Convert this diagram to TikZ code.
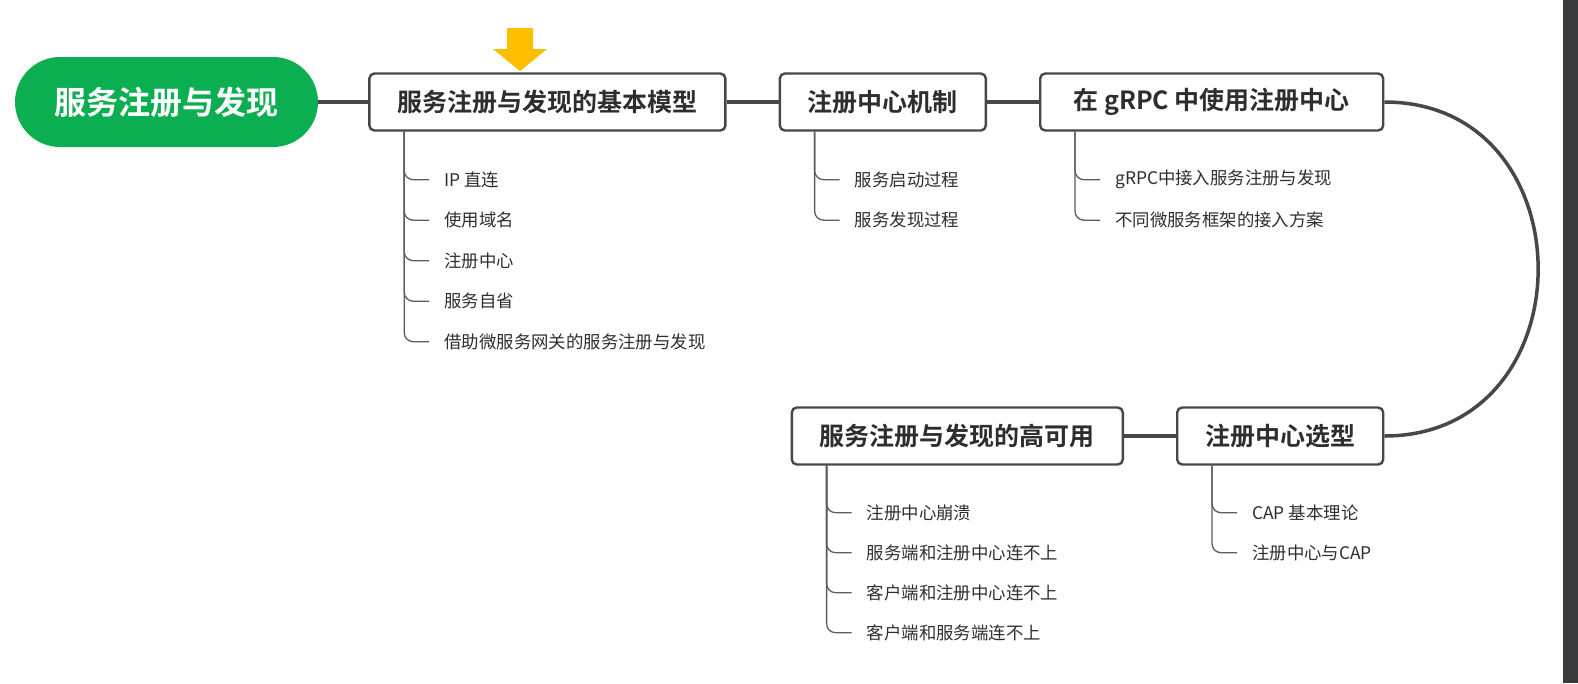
\documentclass[tikz,border=0pt]{standalone}
\usepackage{fontspec}
\setmainfont{Noto Sans CJK SC}[BoldFont={Noto Sans CJK SC Bold}]
\usepackage{tikz}
\usetikzlibrary{positioning, calc}
\definecolor{trunk}{HTML}{474747}
\definecolor{twiggray}{HTML}{5C5C5C}
\definecolor{rootgreen}{HTML}{0BAE50}
\definecolor{marker}{HTML}{FFBF00}
\definecolor{scrollbar}{HTML}{3A3A3C}
\definecolor{ink}{HTML}{2E2E2E}

\begin{document}
\begin{tikzpicture}[
    x=1pt, y=-1pt,
    node distance=51pt,
    root/.style={fill=rootgreen, rounded corners=45pt, minimum width=303pt, minimum height=90pt,
                 text=white, font=\fontsize{32}{36}\selectfont\bfseries},
    topic/.style={draw=trunk, line width=2.4pt, fill=white, rounded corners=5pt, inner xsep=28pt,
                  minimum height=57pt, text=ink, font=\fontsize{25}{30}\selectfont\bfseries},
    leaf/.style={anchor=west, inner xsep=15pt, inner ysep=2pt, text=ink, font=\fontsize{17.4}{21}\selectfont},
    link/.style={draw=trunk, line width=4.5pt},
    twig/.style={draw=twiggray, line width=1.3pt, rounded corners=9pt}
]
  \useasboundingbox (0,0) rectangle (1578,683);
  \fill[scrollbar] (1563,0) rectangle (1578,683);

  % main topics
  \node[root] (root) at (166.5,102) {服务注册与发现};
  \node[topic, right=50pt of root] (model) {服务注册与发现的基本模型};
  \node[topic, right=52pt of model] (center) {注册中心机制};
  \node[topic, right=52pt of center, minimum width=343pt] (grpc) {在 gRPC 中使用注册中心};
  \node[topic, anchor=east] (select) at (grpc.east |- 0,436) {注册中心选型};
  \node[topic, left=52pt of select] (ha) {服务注册与发现的高可用};

  \draw[link] (root) -- (model);
  \draw[link] (model) -- (center);
  \draw[link] (center) -- (grpc);
  \draw[link, line width=3.5pt] (grpc.east) .. controls +(205,0) and +(205,0) .. (select.east);
  \draw[link] (select) -- (ha);

  % marker above the first topic
  \fill[marker] (507,28) -- (533,28) -- (533,49) -- (547,49) -- (520,71) -- (493,49) -- (507,49) -- cycle;

  % subtopics
  \foreach \txt [count=\i from 0] in {IP 直连, 使用域名, 注册中心, 服务自省, 借助微服务网关的服务注册与发现} {
    \node[leaf] (model-\i) at ($(model.south west)+(61,48+40.5*\i)$) {\txt};
    \draw[twig] ($(model.south west)+(36,0)$) |- (model-\i.west);
  }
  \foreach \txt [count=\i from 0] in {服务启动过程, 服务发现过程} {
    \node[leaf] (center-\i) at ($(center.south west)+(61,48+40.5*\i)$) {\txt};
    \draw[twig] ($(center.south west)+(36,0)$) |- (center-\i.west);
  }
  \foreach \txt [count=\i from 0] in {gRPC中接入服务注册与发现, 不同微服务框架的接入方案} {
    \node[leaf] (grpc-\i) at ($(grpc.south west)+(61,48+40.5*\i)$) {\txt};
    \draw[twig] ($(grpc.south west)+(36,0)$) |- (grpc-\i.west);
  }
  \foreach \txt [count=\i from 0] in {注册中心崩溃, 服务端和注册中心连不上, 客户端和注册中心连不上, 客户端和服务端连不上} {
    \node[leaf] (ha-\i) at ($(ha.south west)+(61,47+40*\i)$) {\txt};
    \draw[twig] ($(ha.south west)+(36,0)$) |- (ha-\i.west);
  }
  \foreach \txt [count=\i from 0] in {CAP 基本理论, 注册中心与CAP} {
    \node[leaf] (select-\i) at ($(select.south west)+(61,47+40*\i)$) {\txt};
    \draw[twig] ($(select.south west)+(36,0)$) |- (select-\i.west);
  }
\end{tikzpicture}
\end{document}
